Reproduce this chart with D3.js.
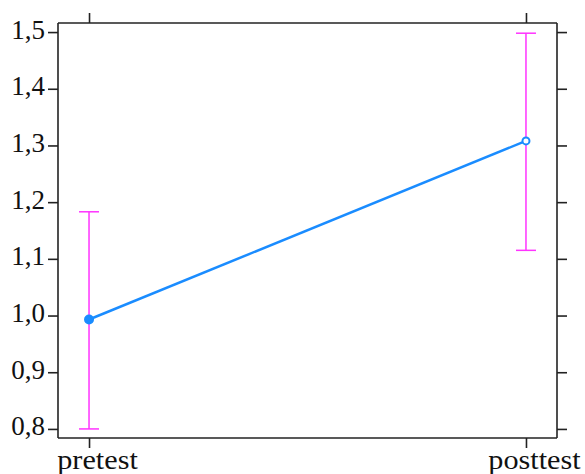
<!DOCTYPE html>
<html>
<head>
<meta charset="utf-8">
<script src="https://cdn.jsdelivr.net/npm/d3@7"></script>
<style>
  body { margin: 0; background: #fff; }
</style>
</head>
<body>
<div id="chart"></div>
<script>
// data
const phases = ["pretest", "posttest"];
const means = [0.993, 1.308];
const lower = [0.800, 1.115];
const upper = [1.183, 1.498];
const yTicks = [0.8, 0.9, 1.0, 1.1, 1.2, 1.3, 1.4, 1.5];

var margin = {top: 23, right: 28, bottom: 36, left: 58},
    width = 585 - margin.left - margin.right,
    height = 474 - margin.top - margin.bottom;

const svg = d3.select("#chart")
  .append("svg")
  .attr("width", 585)
  .attr("height", 474)
  .append("g")
  .attr("transform", `translate(${margin.left}, ${margin.top})`);

const x = d3.scalePoint()
  .domain(phases)
  .range([0, width])
  .padding(0.071);

const y = d3.scaleLinear()
  .domain([0.784, 1.516])
  .range([height, 0]);

const fmt = d => d3.format(".1f")(d).replace(".", ",");
const serif = "'Liberation Serif', 'Times New Roman', serif";

// axes
const leftAxis = svg.append("g")
  .call(d3.axisLeft(y).tickValues(yTicks).tickFormat(fmt).tickSize(10).tickPadding(3));
const bottomAxis = svg.append("g")
  .attr("transform", `translate(0, ${height})`)
  .call(d3.axisBottom(x).tickSize(10).tickPadding(2));
const topAxis = svg.append("g")
  .call(d3.axisTop(x).tickSize(10).tickFormat(""));
const rightAxis = svg.append("g")
  .attr("transform", `translate(${width}, 0)`)
  .call(d3.axisRight(y).tickValues(yTicks).tickSize(10).tickFormat(""));

[leftAxis, bottomAxis, topAxis, rightAxis].forEach(g => {
  g.attr("font-family", serif).attr("font-size", 27);
  g.select(".domain").attr("stroke", "#222").attr("stroke-width", 1.6);
  g.selectAll(".tick line").attr("stroke", "#222").attr("stroke-width", 1.6);
});
leftAxis.selectAll("text").attr("fill", "#111").attr("dy", "0.22em");
bottomAxis.selectAll("text")
  .attr("fill", "#111")
  .attr("y", 0).attr("dy", 0)
  .attr("transform", "translate(8, 31) scale(1.12, 1)");
// plain box edges, no end ticks
[leftAxis, rightAxis].forEach(g => g.select(".domain").attr("d", `M0,0V${height}`));
[bottomAxis, topAxis].forEach(g => g.select(".domain").attr("d", `M0,0H${width}`));

// error bars
const err = svg.append("g").attr("stroke", "#ff33ff").attr("stroke-width", 1.5);
phases.forEach((p, i) => {
  err.append("line").attr("x1", x(p)).attr("x2", x(p)).attr("y1", y(lower[i])).attr("y2", y(upper[i]));
  err.append("line").attr("x1", x(p) - 10).attr("x2", x(p) + 10).attr("y1", y(lower[i])).attr("y2", y(lower[i]));
  err.append("line").attr("x1", x(p) - 10).attr("x2", x(p) + 10).attr("y1", y(upper[i])).attr("y2", y(upper[i]));
});

// mean line
svg.append("path")
  .datum(phases.map((p, i) => [x(p), y(means[i])]))
  .attr("fill", "none")
  .attr("stroke", "#1a8cff")
  .attr("stroke-width", 2.5)
  .attr("d", d3.line());

svg.selectAll("circle.pt")
  .data(phases)
  .join("circle")
  .attr("class", "pt")
  .attr("cx", d => x(d))
  .attr("cy", (d, i) => y(means[i]))
  .attr("r", (d, i) => i === 0 ? 4 : 3.5)
  .attr("fill", (d, i) => i === 0 ? "#1a8cff" : "#fff")
  .attr("stroke", "#1a8cff")
  .attr("stroke-width", 2);
</script>
</body>
</html>
